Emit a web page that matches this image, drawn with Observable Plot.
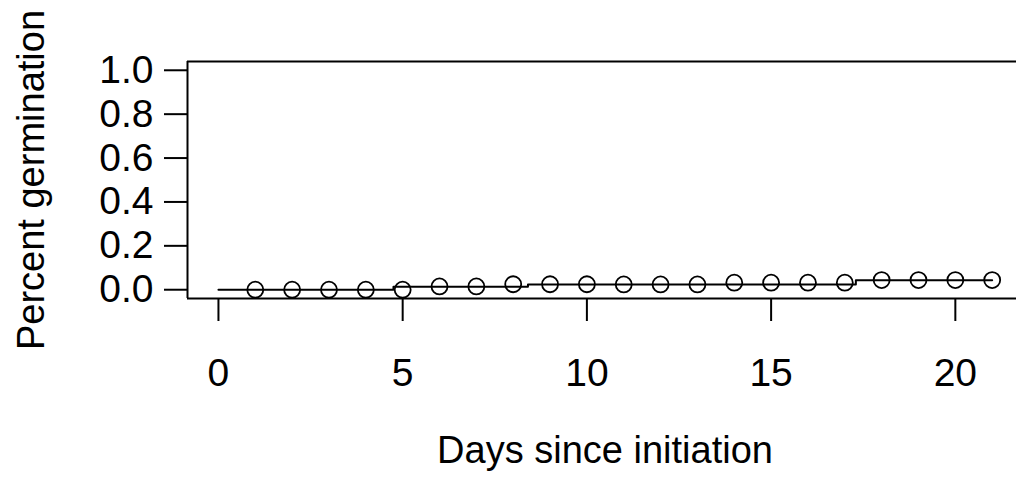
<!DOCTYPE html>
<html>
<head>
<meta charset="utf-8">
<script src="https://cdn.jsdelivr.net/npm/d3@7"></script>
<script src="https://cdn.jsdelivr.net/npm/@observablehq/plot@0.6"></script>
<style>
  html, body { margin: 0; padding: 0; background: #fff; }
  #chart svg { display: block; }
</style>
</head>
<body>
<div id="chart"></div>
<script>
// Observed germination (points)
const days = [1, 2, 3, 4, 5, 6, 7, 8, 9, 10, 11, 12, 13, 14, 15, 16, 17, 18, 19, 20, 21];
const germination = [0, 0, 0, 0, 0, 0.015, 0.015, 0.025, 0.025, 0.025, 0.024, 0.024, 0.024,
                     0.032, 0.032, 0.032, 0.032, 0.044, 0.044, 0.044, 0.044];
// Fitted curve (drawn as steps)
const fitDays = [0, 4.75, 8.4, 17.3, 21];
const fitValues = [0, 0.014, 0.024, 0.043, 0.043];
// Axis ticks and labels
const xTicks = [0, 5, 10, 15, 20];
const yTicks = [0, 0.2, 0.4, 0.6, 0.8, 1.0];
const xDomain = [-0.84, 21.66];
const yDomain = [-0.04, 1.04];
const xTitle = "Days since initiation";
const yTitle = "Percent germination";

const points = days.map((d, i) => ({day: d, value: germination[i]}));
const fit = fitDays.map((d, i) => ({day: d, value: fitValues[i]}));

const fontSize = 38;
const chart = Plot.plot({
  width: 1016,
  height: 484,
  marginLeft: 187,
  marginRight: 0,
  marginTop: 61,
  marginBottom: 186,
  style: {fontFamily: "'Liberation Sans', Arial, sans-serif", color: "#000", background: "#fff"},
  x: {domain: xDomain, label: null},
  y: {domain: yDomain, label: null},
  marks: [
    Plot.ruleY([yDomain[0], yDomain[1]], {stroke: "#000", strokeWidth: 2}),
    Plot.ruleX([xDomain[0]], {stroke: "#000", strokeWidth: 2}),
    Plot.axisX(xTicks, {tickSize: 23, tickPadding: 37, fontSize: 39, strokeWidth: 2, tickFormat: d => String(d)}),
    Plot.axisY(yTicks, {tickSize: 23, tickPadding: 11, fontSize: 39, strokeWidth: 2, tickFormat: d3.format(".1f")}),
    Plot.line(fit, {x: "day", y: "value", curve: "step-after", stroke: "#000", strokeWidth: 2}),
    Plot.dot(points, {x: "day", y: "value", r: 8, stroke: "#000", strokeWidth: 1.8, fill: "none"}),
    Plot.text([xTitle], {frameAnchor: "bottom", dx: 3, dy: 164, fontSize, fill: "#000"}),
    Plot.text([yTitle], {frameAnchor: "left", textAnchor: "middle", dx: -156, rotate: -90, fontSize, fill: "#000"})
  ]
});
document.getElementById("chart").appendChild(chart);
</script>
</body>
</html>
